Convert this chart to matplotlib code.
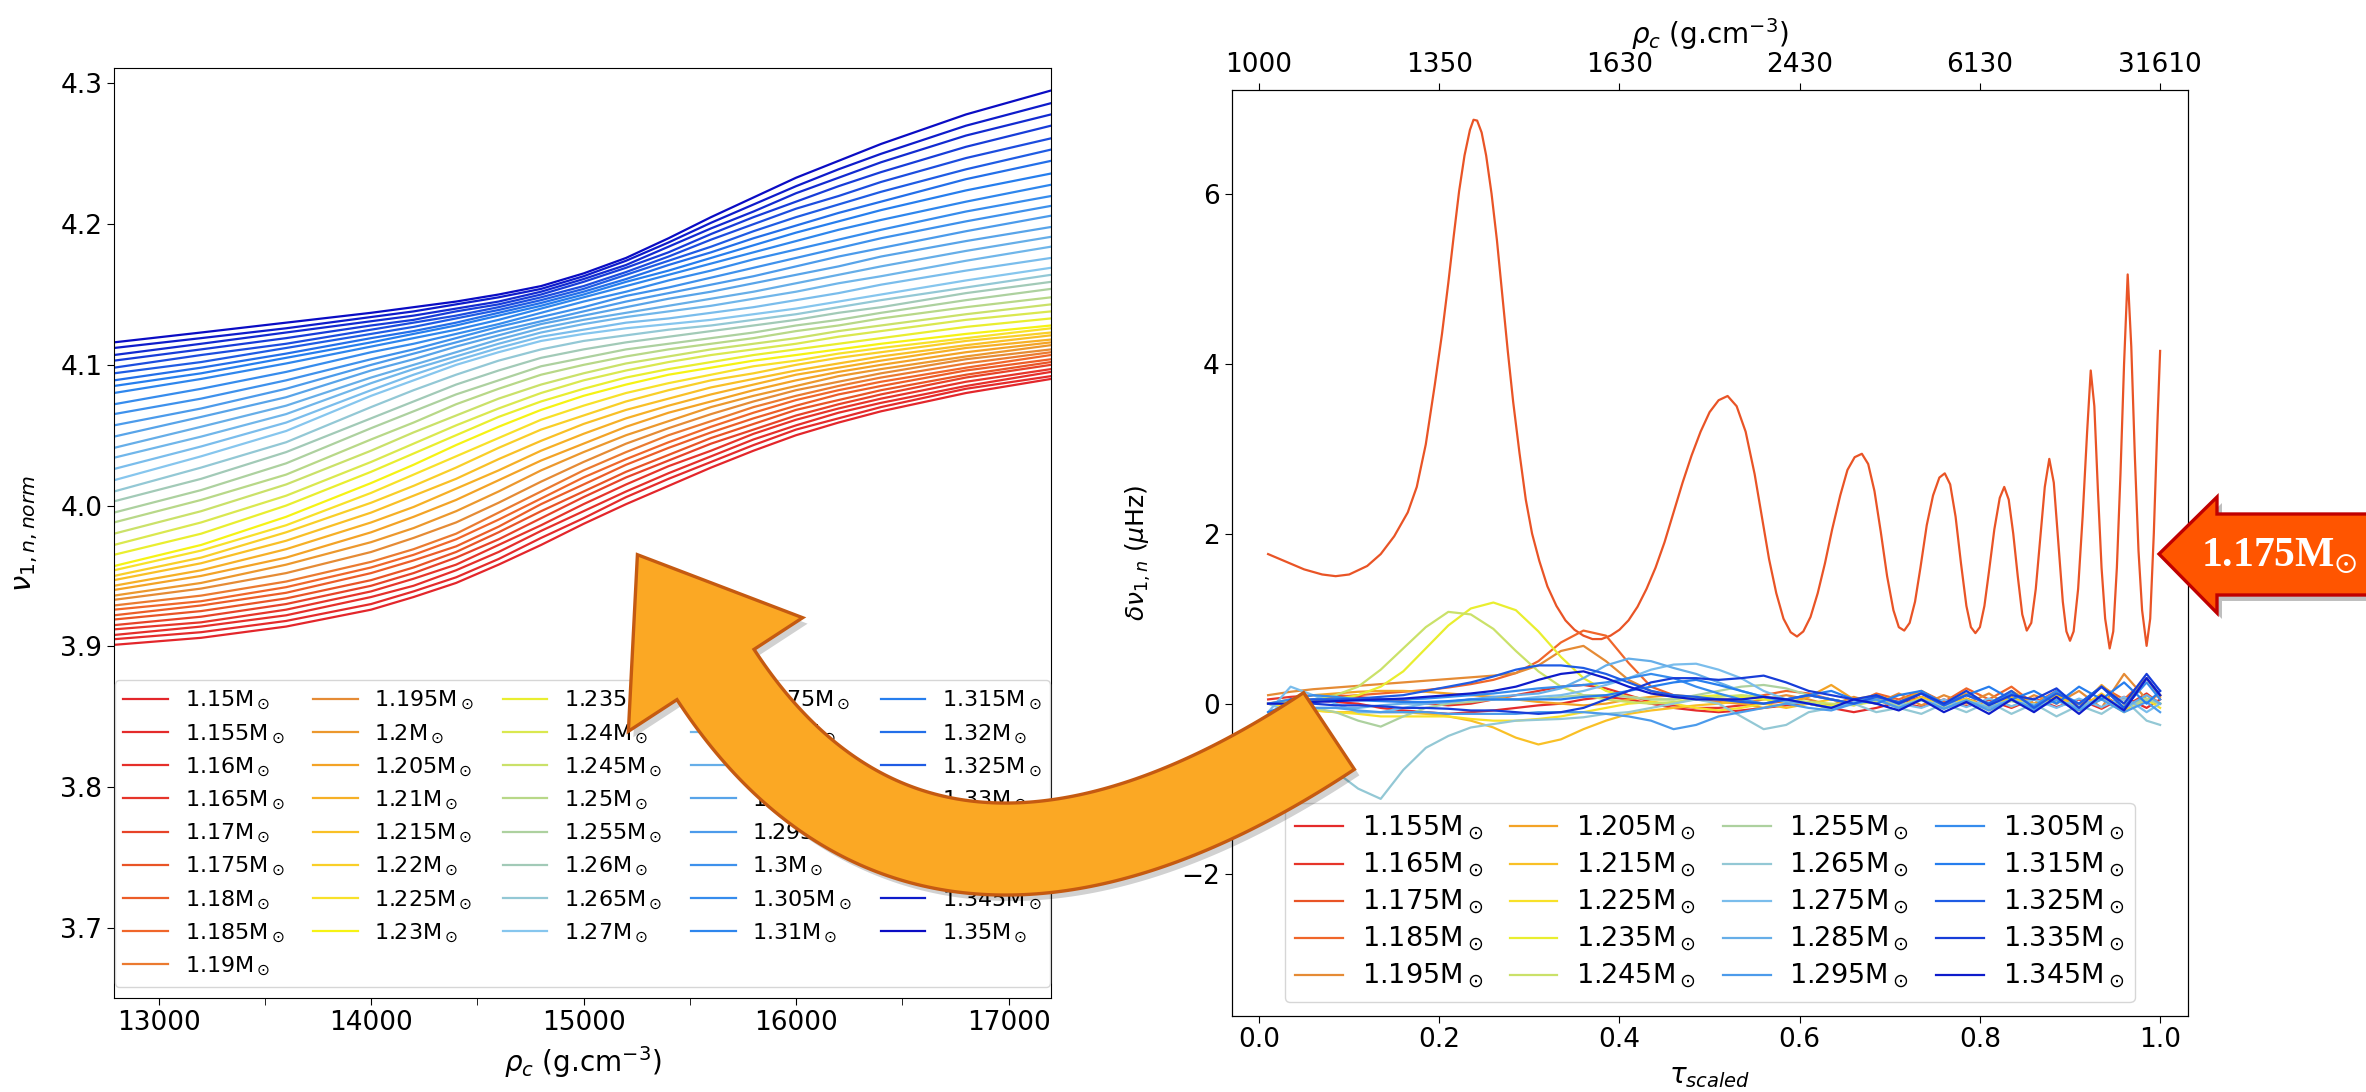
import numpy as np
import matplotlib
matplotlib.use("Agg")
import matplotlib.pyplot as plt
from matplotlib.colors import LinearSegmentedColormap
from matplotlib.patches import Polygon
from matplotlib.ticker import MultipleLocator

W, H = 2366, 1092

# ---------------------------------------------------------------- left panel data
masses = [1.15, 1.155, 1.16, 1.165, 1.17, 1.175, 1.18, 1.185, 1.19, 1.195,
          1.2, 1.205, 1.21, 1.215, 1.22, 1.225, 1.23, 1.235, 1.24, 1.245,
          1.25, 1.255, 1.26, 1.265, 1.27, 1.275, 1.28, 1.285, 1.29, 1.295,
          1.3, 1.305, 1.31, 1.315, 1.32, 1.325, 1.33, 1.335, 1.34, 1.345, 1.35]

# central density nodes (g/cm3) where nu_norm is tabulated
rho_nodes = [12790, 13200, 13600, 14000, 14200, 14400, 14600, 14800, 15000,
             15200, 15400, 15600, 15800, 16000, 16200, 16400, 16800, 17200]

# nu_{1,n,norm} for every mass (same order as masses), one list per density node
nu_12790 = [3.901, 3.905, 3.908, 3.912, 3.915, 3.919, 3.922, 3.926, 3.929, 3.933, 3.936, 3.940, 3.943, 3.947,
            3.950, 3.954, 3.957, 3.965, 3.972, 3.980, 3.988, 3.995, 4.003, 4.010, 4.018, 4.026, 4.034, 4.041,
            4.049, 4.057, 4.065, 4.072, 4.080, 4.085, 4.089, 4.094, 4.098, 4.103, 4.107, 4.112, 4.116]
nu_13200 = [3.906, 3.910, 3.914, 3.917, 3.921, 3.925, 3.929, 3.932, 3.936, 3.941, 3.945, 3.950, 3.954, 3.959,
            3.963, 3.968, 3.972, 3.980, 3.988, 3.996, 4.004, 4.011, 4.019, 4.027, 4.035, 4.042, 4.049, 4.056,
            4.063, 4.069, 4.076, 4.083, 4.090, 4.094, 4.098, 4.102, 4.107, 4.111, 4.115, 4.119, 4.123]
nu_13600 = [3.914, 3.918, 3.922, 3.926, 3.930, 3.934, 3.938, 3.942, 3.946, 3.952, 3.958, 3.963, 3.969, 3.975,
            3.981, 3.986, 3.992, 4.000, 4.007, 4.015, 4.022, 4.030, 4.038, 4.045, 4.053, 4.059, 4.065, 4.071,
            4.077, 4.083, 4.089, 4.095, 4.101, 4.105, 4.108, 4.112, 4.115, 4.119, 4.123, 4.126, 4.130]
nu_14000 = [3.926, 3.930, 3.935, 3.939, 3.943, 3.947, 3.952, 3.956, 3.960, 3.967, 3.974, 3.981, 3.988, 3.995,
            4.002, 4.009, 4.016, 4.024, 4.031, 4.039, 4.047, 4.055, 4.062, 4.070, 4.078, 4.082, 4.087, 4.091,
            4.096, 4.100, 4.104, 4.109, 4.113, 4.116, 4.119, 4.122, 4.125, 4.128, 4.131, 4.134, 4.137]
nu_14200 = [3.935, 3.939, 3.943, 3.948, 3.952, 3.956, 3.961, 3.965, 3.969, 3.977, 3.984, 3.992, 3.999, 4.007,
            4.014, 4.022, 4.029, 4.037, 4.044, 4.052, 4.059, 4.067, 4.074, 4.082, 4.089, 4.093, 4.097, 4.100,
            4.104, 4.108, 4.111, 4.115, 4.119, 4.122, 4.124, 4.127, 4.130, 4.132, 4.135, 4.138, 4.141]
nu_14400 = [3.945, 3.949, 3.954, 3.958, 3.963, 3.967, 3.971, 3.976, 3.980, 3.988, 3.996, 4.004, 4.012, 4.019,
            4.027, 4.035, 4.043, 4.050, 4.057, 4.064, 4.072, 4.079, 4.086, 4.093, 4.100, 4.103, 4.106, 4.109,
            4.113, 4.116, 4.119, 4.122, 4.125, 4.128, 4.130, 4.133, 4.135, 4.138, 4.140, 4.143, 4.145]
nu_14600 = [3.958, 3.962, 3.967, 3.972, 3.976, 3.981, 3.985, 3.990, 3.995, 4.002, 4.010, 4.018, 4.025, 4.033,
            4.041, 4.048, 4.056, 4.063, 4.069, 4.076, 4.083, 4.089, 4.096, 4.103, 4.109, 4.112, 4.115, 4.118,
            4.121, 4.124, 4.127, 4.129, 4.132, 4.135, 4.137, 4.139, 4.141, 4.143, 4.145, 4.148, 4.150]
nu_14800 = [3.972, 3.977, 3.982, 3.986, 3.991, 3.996, 4.001, 4.005, 4.010, 4.017, 4.025, 4.032, 4.039, 4.046,
            4.054, 4.061, 4.068, 4.074, 4.080, 4.086, 4.093, 4.099, 4.105, 4.111, 4.117, 4.120, 4.123, 4.126,
            4.129, 4.131, 4.134, 4.137, 4.140, 4.142, 4.144, 4.146, 4.148, 4.150, 4.152, 4.154, 4.156]
nu_15000 = [3.987, 3.991, 3.996, 4.001, 4.006, 4.010, 4.015, 4.020, 4.025, 4.031, 4.038, 4.044, 4.051, 4.058,
            4.064, 4.071, 4.078, 4.083, 4.089, 4.094, 4.100, 4.105, 4.111, 4.117, 4.122, 4.125, 4.129, 4.132,
            4.135, 4.138, 4.141, 4.145, 4.148, 4.150, 4.152, 4.154, 4.156, 4.159, 4.161, 4.163, 4.165]
nu_15200 = [4.001, 4.006, 4.010, 4.015, 4.020, 4.024, 4.029, 4.033, 4.038, 4.044, 4.050, 4.056, 4.062, 4.068,
            4.074, 4.080, 4.086, 4.091, 4.096, 4.101, 4.106, 4.111, 4.116, 4.121, 4.126, 4.130, 4.134, 4.137,
            4.141, 4.145, 4.149, 4.152, 4.156, 4.159, 4.161, 4.164, 4.166, 4.169, 4.171, 4.174, 4.176]
nu_15400 = [4.014, 4.019, 4.023, 4.028, 4.032, 4.036, 4.041, 4.045, 4.050, 4.055, 4.060, 4.066, 4.071, 4.076,
            4.082, 4.087, 4.093, 4.097, 4.102, 4.106, 4.111, 4.115, 4.120, 4.125, 4.129, 4.133, 4.138, 4.142,
            4.147, 4.151, 4.155, 4.160, 4.164, 4.167, 4.171, 4.174, 4.177, 4.180, 4.184, 4.187, 4.190]
nu_15600 = [4.027, 4.031, 4.035, 4.039, 4.044, 4.048, 4.052, 4.056, 4.060, 4.065, 4.070, 4.074, 4.079, 4.084,
            4.089, 4.093, 4.098, 4.102, 4.107, 4.111, 4.115, 4.119, 4.124, 4.128, 4.132, 4.137, 4.142, 4.147,
            4.152, 4.157, 4.162, 4.167, 4.172, 4.176, 4.180, 4.184, 4.189, 4.193, 4.197, 4.201, 4.205]
nu_15800 = [4.039, 4.043, 4.047, 4.051, 4.054, 4.058, 4.062, 4.066, 4.070, 4.074, 4.078, 4.082, 4.086, 4.090,
            4.094, 4.099, 4.103, 4.107, 4.111, 4.115, 4.119, 4.123, 4.128, 4.132, 4.136, 4.141, 4.147, 4.152,
            4.158, 4.163, 4.169, 4.175, 4.180, 4.185, 4.190, 4.195, 4.200, 4.205, 4.209, 4.214, 4.219]
nu_16000 = [4.050, 4.054, 4.057, 4.061, 4.064, 4.068, 4.071, 4.075, 4.078, 4.082, 4.085, 4.089, 4.093, 4.096,
            4.100, 4.103, 4.107, 4.111, 4.115, 4.119, 4.124, 4.128, 4.132, 4.136, 4.140, 4.146, 4.152, 4.158,
            4.164, 4.170, 4.176, 4.182, 4.188, 4.194, 4.199, 4.205, 4.211, 4.216, 4.222, 4.227, 4.233]
nu_16200 = [4.059, 4.062, 4.066, 4.069, 4.072, 4.075, 4.079, 4.082, 4.085, 4.088, 4.092, 4.095, 4.098, 4.101,
            4.105, 4.108, 4.111, 4.115, 4.120, 4.124, 4.128, 4.132, 4.137, 4.141, 4.145, 4.151, 4.158, 4.164,
            4.170, 4.177, 4.183, 4.189, 4.196, 4.202, 4.208, 4.214, 4.220, 4.227, 4.233, 4.239, 4.245]
nu_16400 = [4.067, 4.070, 4.073, 4.076, 4.079, 4.082, 4.085, 4.088, 4.091, 4.094, 4.097, 4.100, 4.103, 4.106,
            4.109, 4.112, 4.115, 4.119, 4.124, 4.128, 4.133, 4.137, 4.141, 4.146, 4.150, 4.157, 4.163, 4.170,
            4.177, 4.183, 4.190, 4.196, 4.203, 4.210, 4.216, 4.223, 4.230, 4.237, 4.244, 4.250, 4.257]
nu_16800 = [4.080, 4.083, 4.085, 4.088, 4.091, 4.093, 4.096, 4.098, 4.101, 4.104, 4.106, 4.109, 4.112, 4.114,
            4.117, 4.119, 4.122, 4.127, 4.132, 4.136, 4.141, 4.146, 4.151, 4.155, 4.160, 4.167, 4.174, 4.181,
            4.188, 4.195, 4.202, 4.209, 4.216, 4.224, 4.232, 4.239, 4.247, 4.255, 4.263, 4.270, 4.278]
nu_17200 = [4.090, 4.092, 4.095, 4.097, 4.100, 4.102, 4.104, 4.107, 4.109, 4.111, 4.114, 4.116, 4.118, 4.121,
            4.123, 4.126, 4.128, 4.133, 4.138, 4.143, 4.148, 4.154, 4.159, 4.164, 4.169, 4.176, 4.184, 4.191,
            4.198, 4.206, 4.213, 4.220, 4.228, 4.236, 4.245, 4.253, 4.261, 4.270, 4.278, 4.286, 4.295]

# ---------------------------------------------------------------- right panel data
tau_grid = [0.01, 0.035, 0.06, 0.085, 0.11, 0.135, 0.16, 0.185, 0.21, 0.235,
            0.26, 0.285, 0.31, 0.335, 0.36, 0.385, 0.41, 0.435, 0.46, 0.485,
            0.51, 0.535, 0.56, 0.585, 0.61, 0.635, 0.66, 0.685, 0.71, 0.735,
            0.76, 0.785, 0.81, 0.835, 0.86, 0.885, 0.91, 0.935, 0.96, 0.985, 1.0]

dnu_1155 = [0.0, 0.02, 0.04, 0.02, 0.0, -0.05, -0.08, -0.1, -0.12, -0.1,
            -0.08, -0.05, -0.02, 0.0, 0.05, 0.08, 0.05, 0.0, -0.05, -0.08,
            -0.1, -0.08, -0.05, -0.02, 0.0, -0.05, -0.1, -0.05, 0.02, -0.04,
            0.05, -0.03, 0.04, -0.05, 0.06, -0.04, 0.05, -0.06, 0.08, -0.05, 0.05]
dnu_1165 = [0.05, 0.08, 0.1, 0.1, 0.08, 0.05, 0.03, 0.0, -0.02, 0.0,
            0.05, 0.1, 0.15, 0.2, 0.22, 0.18, 0.1, 0.02, -0.02, -0.05,
            -0.05, -0.02, 0.0, 0.03, 0.0, -0.04, 0.02, 0.06, 0.0, 0.08,
            -0.02, 0.06, -0.04, 0.07, -0.03, 0.08, -0.05, 0.1, -0.04, 0.12, 0.0]
dnu_1185 = [0.0, 0.02, 0.05, 0.08, 0.1, 0.12, 0.14, 0.16, 0.19, 0.23,
            0.28, 0.36, 0.5, 0.72, 0.86, 0.8, 0.48, 0.2, 0.1, 0.06,
            0.05, 0.05, 0.1, 0.15, 0.12, 0.05, 0.0, 0.12, 0.05, 0.15,
            0.02, 0.18, 0.05, 0.2, 0.0, 0.15, -0.02, 0.2, 0.05, 0.3, 0.1]
dnu_1195 = [0.1, 0.14, 0.17, 0.19, 0.21, 0.23, 0.25, 0.27, 0.29, 0.31,
            0.33, 0.36, 0.45, 0.62, 0.68, 0.5, 0.28, 0.15, 0.08, 0.05,
            0.02, 0.0, 0.05, 0.1, 0.05, -0.02, 0.08, 0.0, 0.12, -0.02,
            0.1, 0.0, 0.12, -0.04, 0.1, 0.0, 0.15, -0.05, 0.35, 0.05, 0.1]
dnu_1205 = [0.0, 0.05, 0.1, 0.12, 0.14, 0.15, 0.15, 0.14, 0.12, 0.1,
            0.08, 0.05, 0.02, 0.0, -0.02, 0.0, 0.05, 0.08, 0.1, 0.08,
            0.05, 0.0, -0.05, 0.0, 0.08, 0.22, 0.05, 0.1, 0.02, 0.15,
            0.0, 0.12, -0.02, 0.15, 0.0, 0.12, -0.05, 0.22, 0.0, 0.3, 0.08]
dnu_1215 = [0.0, -0.05, -0.08, -0.1, -0.1, -0.1, -0.1, -0.12, -0.15, -0.2,
            -0.28, -0.4, -0.48, -0.42, -0.3, -0.2, -0.12, -0.08, -0.05, -0.02,
            0.0, 0.03, 0.0, -0.05, 0.0, 0.05, -0.02, 0.06, -0.04, 0.08,
            -0.03, 0.06, -0.05, 0.08, -0.04, 0.1, -0.06, 0.12, -0.08, 0.1, 0.0]
dnu_1225 = [0.0, -0.05, -0.08, -0.1, -0.12, -0.15, -0.15, -0.15, -0.15, -0.18,
            -0.2, -0.2, -0.18, -0.15, -0.1, -0.05, 0.0, 0.02, 0.0, -0.05,
            -0.08, -0.05, 0.0, 0.05, 0.0, -0.06, 0.0, 0.05, -0.05, 0.06,
            -0.06, 0.05, -0.08, 0.04, -0.06, 0.05, -0.08, 0.06, -0.1, 0.05, -0.05]
dnu_1235 = [0.0, 0.0, 0.02, 0.05, 0.1, 0.2, 0.38, 0.65, 0.92, 1.12,
            1.19, 1.1, 0.85, 0.55, 0.3, 0.15, 0.08, 0.05, 0.05, 0.08,
            0.1, 0.08, 0.05, 0.02, 0.0, -0.03, 0.0, 0.04, -0.02, 0.05,
            -0.03, 0.04, -0.04, 0.05, -0.03, 0.04, -0.05, 0.06, -0.04, 0.05, 0.0]
dnu_1245 = [0.0, 0.02, 0.05, 0.1, 0.2, 0.4, 0.65, 0.9, 1.08, 1.05,
            0.88, 0.62, 0.38, 0.2, 0.1, 0.05, 0.02, 0.0, 0.02, 0.05,
            0.08, 0.1, 0.08, 0.05, 0.02, 0.0, -0.02, 0.03, -0.02, 0.04,
            -0.03, 0.03, -0.04, 0.05, -0.02, 0.04, -0.05, 0.05, -0.03, 0.06, 0.0]
dnu_1255 = [0.0, 0.0, -0.05, -0.1, -0.2, -0.27, -0.15, -0.05, 0.0, 0.02,
            0.05, 0.05, 0.05, 0.08, 0.1, 0.1, 0.08, 0.05, 0.05, 0.1,
            0.15, 0.2, 0.22, 0.18, 0.1, 0.05, 0.0, 0.04, -0.02, 0.05,
            -0.03, 0.04, -0.04, 0.03, -0.03, 0.05, -0.04, 0.06, -0.05, 0.05, 0.0]
dnu_1265 = [0.0, -0.1, -0.4, -0.8, -1.0, -1.12, -0.78, -0.52, -0.38, -0.28,
            -0.24, -0.2, -0.19, -0.18, -0.16, -0.12, -0.1, -0.05, 0.0, 0.05,
            0.0, -0.15, -0.3, -0.25, -0.1, -0.05, 0.0, -0.1, -0.05, -0.12,
            0.0, -0.1, 0.02, -0.12, 0.0, -0.15, -0.02, -0.12, 0.05, -0.2, -0.25]
dnu_1275 = [-0.1, 0.2, 0.1, 0.0, -0.1, -0.1, -0.05, 0.0, 0.02, 0.05,
            0.05, 0.05, 0.08, 0.1, 0.15, 0.22, 0.3, 0.4, 0.46, 0.47,
            0.4, 0.3, 0.15, 0.05, 0.0, -0.05, 0.02, 0.08, 0.0, -0.05,
            0.05, -0.04, 0.06, -0.03, 0.05, -0.05, 0.06, -0.04, 0.08, -0.1, 0.0]
dnu_1285 = [-0.15, -0.1, -0.05, -0.05, -0.05, -0.02, 0.0, 0.0, 0.02, 0.05,
            0.08, 0.1, 0.12, 0.18, 0.3, 0.45, 0.53, 0.5, 0.42, 0.35,
            0.25, 0.15, 0.08, 0.02, 0.0, -0.05, 0.0, 0.05, -0.05, 0.04,
            -0.06, 0.03, -0.05, 0.05, -0.08, 0.05, -0.06, 0.08, -0.05, 0.1, 0.0]
dnu_1295 = [-0.2, -0.1, -0.05, -0.05, -0.08, -0.1, -0.1, -0.1, -0.12, -0.12,
            -0.12, -0.12, -0.1, -0.1, -0.1, -0.12, -0.15, -0.2, -0.3, -0.25,
            -0.15, -0.1, -0.05, 0.0, -0.05, -0.08, 0.0, 0.05, -0.05, 0.05,
            -0.06, 0.04, -0.08, 0.05, -0.06, 0.04, -0.08, 0.05, -0.1, 0.02, -0.1]
dnu_1305 = [0.0, 0.05, 0.1, 0.08, 0.05, 0.05, 0.05, 0.06, 0.08, 0.1,
            0.12, 0.15, 0.18, 0.2, 0.22, 0.25, 0.3, 0.35, 0.3, 0.2,
            0.12, 0.05, 0.0, 0.05, 0.1, 0.05, 0.0, 0.1, 0.0, 0.12,
            -0.02, 0.1, 0.0, 0.12, -0.03, 0.15, 0.0, 0.2, -0.05, 0.25, 0.05]
dnu_1315 = [-0.1, 0.0, 0.05, 0.05, 0.04, 0.03, 0.02, 0.02, 0.03, 0.05,
            0.05, 0.05, 0.05, 0.05, 0.08, 0.1, 0.15, 0.2, 0.25, 0.28,
            0.22, 0.15, 0.08, 0.05, 0.1, 0.15, 0.05, 0.0, 0.1, 0.15,
            0.0, 0.1, 0.2, 0.05, 0.15, 0.0, 0.2, 0.05, 0.25, 0.0, 0.15]
dnu_1325 = [-0.2, 0.05, 0.05, 0.05, 0.06, 0.08, 0.1, 0.15, 0.2, 0.25,
            0.32, 0.4, 0.45, 0.45, 0.42, 0.35, 0.25, 0.15, 0.1, 0.08,
            0.05, 0.02, 0.0, 0.05, 0.1, 0.05, 0.0, 0.08, 0.02, 0.12,
            -0.02, 0.1, 0.0, 0.15, -0.05, 0.12, 0.0, 0.2, -0.05, 0.3, 0.1]
dnu_1335 = [-0.3, 0.0, 0.0, -0.02, -0.02, -0.03, -0.05, -0.05, -0.06, -0.08,
            -0.08, -0.1, -0.12, -0.1, -0.05, 0.05, 0.15, 0.25, 0.3, 0.3,
            0.28, 0.3, 0.33, 0.25, 0.15, 0.1, 0.05, 0.1, 0.0, 0.12,
            0.0, 0.15, -0.02, 0.1, 0.05, 0.18, -0.05, 0.2, 0.0, 0.35, 0.15]
dnu_1345 = [0.0, 0.0, 0.02, 0.03, 0.04, 0.05, 0.06, 0.08, 0.1, 0.12,
            0.15, 0.2, 0.28, 0.35, 0.38, 0.3, 0.2, 0.12, 0.08, 0.05,
            0.05, 0.05, 0.08, 0.05, 0.0, -0.05, 0.05, 0.0, -0.08, 0.05,
            -0.1, 0.02, -0.12, 0.05, -0.1, 0.08, -0.12, 0.1, -0.08, 0.3, 0.1]

# the 1.175 Msun model has its own, finer sampling
tau_1175 = [0.01, 0.03, 0.05, 0.07, 0.085, 0.1, 0.12, 0.135, 0.15, 0.165,
            0.175, 0.185, 0.195, 0.203, 0.21, 0.216, 0.222, 0.228, 0.234, 0.238,
            0.242, 0.247, 0.252, 0.258, 0.264, 0.27, 0.276, 0.282, 0.289, 0.296,
            0.303, 0.311, 0.32, 0.33, 0.34, 0.35, 0.36, 0.37, 0.38, 0.39,
            0.4, 0.41, 0.42, 0.43, 0.44, 0.45, 0.46, 0.47, 0.48, 0.49,
            0.5, 0.51, 0.52, 0.53, 0.54, 0.55, 0.558, 0.566, 0.574, 0.582,
            0.59, 0.597, 0.604, 0.612, 0.62, 0.628, 0.636, 0.645, 0.653, 0.661,
            0.669, 0.676, 0.683, 0.69, 0.697, 0.704, 0.71, 0.716, 0.722, 0.728,
            0.734, 0.741, 0.748, 0.755, 0.761, 0.767, 0.773, 0.779, 0.785, 0.79,
            0.795, 0.8, 0.805, 0.81, 0.816, 0.822, 0.827, 0.832, 0.837, 0.842,
            0.847, 0.852, 0.857, 0.862, 0.867, 0.872, 0.877, 0.882, 0.887, 0.892,
            0.896, 0.9, 0.904, 0.909, 0.914, 0.919, 0.923, 0.927, 0.931, 0.935,
            0.939, 0.944, 0.948, 0.952, 0.956, 0.96, 0.964, 0.968, 0.972, 0.976,
            0.98, 0.985, 0.989, 0.993, 0.997, 1.0]
dnu_1175 = [1.76, 1.67, 1.58, 1.52, 1.50, 1.52, 1.62, 1.76, 1.97, 2.25,
            2.55, 3.05, 3.75, 4.35, 4.95, 5.5, 6.03, 6.45, 6.75, 6.87,
            6.86, 6.72, 6.45, 6.0, 5.45, 4.8, 4.15, 3.55, 2.95, 2.4,
            2.0, 1.68, 1.38, 1.15, 0.98, 0.87, 0.8, 0.76, 0.76, 0.8,
            0.87, 0.98, 1.14, 1.35, 1.6, 1.9, 2.25, 2.6, 2.92, 3.2,
            3.43, 3.57, 3.62, 3.5, 3.2, 2.7, 2.2, 1.7, 1.3, 1.0,
            0.84, 0.79, 0.85, 1.02, 1.3, 1.65, 2.05, 2.45, 2.75, 2.9,
            2.94, 2.82, 2.5, 2.02, 1.5, 1.1, 0.9, 0.86, 0.95, 1.2,
            1.6, 2.1, 2.45, 2.66, 2.71, 2.58, 2.2, 1.65, 1.15, 0.9,
            0.83, 0.9, 1.15, 1.55, 2.05, 2.42, 2.55, 2.4, 2.0, 1.5,
            1.05, 0.86, 0.95, 1.35, 1.95, 2.55, 2.88, 2.6, 1.9, 1.2,
            0.85, 0.74, 0.85, 1.35, 2.2, 3.2, 3.92, 3.5, 2.5, 1.6,
            1.0, 0.65, 0.85, 1.6, 2.7, 4.0, 5.05, 4.2, 2.9, 1.8,
            1.1, 0.68, 1.0, 2.0, 3.3, 4.15]

dnu_masses = [1.155, 1.165, 1.175, 1.185, 1.195, 1.205, 1.215, 1.225, 1.235, 1.245,
              1.255, 1.265, 1.275, 1.285, 1.295, 1.305, 1.315, 1.325, 1.335, 1.345]

tau_ticks = [0.0, 0.2, 0.4, 0.6, 0.8, 1.0]
rho_top_labels = ['1000', '1350', '1630', '2430', '6130', '31610']

# mass -> colour scale
cmap_masses = [1.15, 1.165, 1.175, 1.185, 1.195, 1.205, 1.215, 1.225, 1.23,
               1.24, 1.25, 1.26, 1.27, 1.285, 1.30, 1.315, 1.33, 1.35]
cmap_colors = ['#e3262b', '#e6352a', '#e95426', '#f0672a', '#e58c35', '#f3a326',
               '#f9c026', '#f8e02a', '#f6f314', '#dbe84e', '#b9d986', '#a2cab8',
               '#86c6ee', '#66aee8', '#3f92ec', '#2680ee', '#1c4ee0', '#0a0cc4']
M_LO, M_HI = 1.15, 1.35


def mass_pos(m):
    return min(max(round((m - M_LO) / (M_HI - M_LO), 6), 0.0), 1.0)


cmap = LinearSegmentedColormap.from_list(
    'mass', [(mass_pos(m), c) for m, c in zip(cmap_masses, cmap_colors)])


def mass_color(m):
    return cmap(mass_pos(m))


def mass_label(m):
    return f'{m:g}' + r'M$_\odot$'


fig = plt.figure(figsize=(W / 100, H / 100), dpi=100)

# ---------------------------------------------------------------- left panel
axL = fig.add_axes([114 / W, 1 - 998 / H, (1051 - 114) / W, (998 - 68) / H])
nu_table = np.array([nu_12790, nu_13200, nu_13600, nu_14000, nu_14200, nu_14400,
                     nu_14600, nu_14800, nu_15000, nu_15200, nu_15400, nu_15600,
                     nu_15800, nu_16000, nu_16200, nu_16400, nu_16800, nu_17200])
for j, m in enumerate(masses):
    axL.plot(rho_nodes, nu_table[:, j], color=mass_color(m), lw=1.6, label=mass_label(m))
axL.set_xlim(12790, 17200)
axL.set_ylim(3.65, 4.311)
axL.xaxis.set_major_locator(MultipleLocator(1000))
axL.xaxis.set_minor_locator(MultipleLocator(500))
axL.yaxis.set_major_locator(MultipleLocator(0.1))
axL.tick_params(which='both', labelsize=19, length=5)
axL.set_xlabel(r'$\rho_c$ (g.cm$^{-3}$)', fontsize=20)
axL.xaxis.set_label_coords(0.5, -0.05)
axL.set_ylabel(r'$\nu_{1,n,norm}$', fontsize=21)
axL.yaxis.set_label_coords(-0.079, 0.5)
axL.legend(ncol=5, loc='lower center', fontsize=16, handlelength=2.0, handletextpad=0.75,
           labelspacing=0.45, columnspacing=1.3, borderaxespad=0.5)

# ---------------------------------------------------------------- right panel
axR = fig.add_axes([1231.6 / W, 1 - 1015.6 / H, (2187.6 - 1231.6) / W, (1015.6 - 90) / H])
small = {1.155: dnu_1155, 1.165: dnu_1165, 1.185: dnu_1185, 1.195: dnu_1195,
         1.205: dnu_1205, 1.215: dnu_1215, 1.225: dnu_1225, 1.235: dnu_1235,
         1.245: dnu_1245, 1.255: dnu_1255, 1.265: dnu_1265, 1.275: dnu_1275,
         1.285: dnu_1285, 1.295: dnu_1295, 1.305: dnu_1305, 1.315: dnu_1315,
         1.325: dnu_1325, 1.335: dnu_1335, 1.345: dnu_1345}
for m in dnu_masses:
    if m == 1.175:
        axR.plot(tau_1175, dnu_1175, color=mass_color(m), lw=1.6, label=mass_label(m))
    else:
        axR.plot(tau_grid, small[m], color=mass_color(m), lw=1.6, label=mass_label(m))
axR.set_xlim(-0.0305, 1.0305)
axR.set_ylim(-3.67, 7.22)
axR.set_yticks([-2, 0, 2, 4, 6])
axR.set_xticks(tau_ticks)
axR.tick_params(labelsize=19, length=5)
axR.set_xlabel(r'$\tau_{scaled}$', fontsize=20)
axR.xaxis.set_label_coords(0.5, -0.05)
axR.set_ylabel(r'$\delta\nu_{1,n}$ ($\mu$Hz)', fontsize=18)
axR.yaxis.set_label_coords(-0.082, 0.5)
axR.legend(ncol=4, loc='lower center', fontsize=19.5, handlelength=1.75, handletextpad=0.7,
           labelspacing=0.3, columnspacing=1.0, borderaxespad=0.5)

top = axR.twiny()
top.set_xlim(axR.get_xlim())
top.set_xticks(tau_ticks)
top.set_xticklabels(rho_top_labels)
top.tick_params(labelsize=19, length=5)
top.set_xlabel(r'$\rho_c$ (g.cm$^{-3}$)', fontsize=20)
top.xaxis.set_label_coords(0.5, 1.05)

# ---------------------------------------------------------------- overlay in pixel units
ov = fig.add_axes([0, 0, 1, 1], zorder=10)
ov.set_xlim(0, W)
ov.set_ylim(H, 0)
ov.axis('off')
ov.patch.set_visible(False)

# curved arrow: cubic Bezier spine from the right panel back to the left one
p0, p1 = np.array([1329.0, 731.0]), np.array([1096.6, 885.0])
p2, p3 = np.array([869.0, 910.0]), np.array([715.5, 674.5])
t = np.linspace(0, 1, 120)[:, None]
spine = (1 - t) ** 3 * p0 + 3 * (1 - t) ** 2 * t * p1 + 3 * (1 - t) * t ** 2 * p2 + t ** 3 * p3
deriv = 3 * (1 - t) ** 2 * (p1 - p0) + 6 * (1 - t) * t * (p2 - p1) + 3 * t ** 2 * (p3 - p2)
u = deriv / np.linalg.norm(deriv, axis=1)[:, None]
nrm = np.column_stack([-u[:, 1], u[:, 0]])
half = 46
edge_a = spine + half * nrm
edge_b = spine - half * nrm
u_end, n_end = u[-1], nrm[-1]
barb_a = p3 + 104 * n_end
barb_b = p3 - 104 * n_end
tip = p3 + 143 * u_end
arrow_pts = np.vstack([edge_a, barb_a, tip, barb_b, edge_b[::-1]])

ov.add_patch(Polygon(arrow_pts + [5, 6], closed=True, facecolor='black', edgecolor='none', alpha=0.18))
ov.add_patch(Polygon(arrow_pts, closed=True, facecolor='#fba824', edgecolor='#c55a11',
                     lw=2.4, joinstyle='miter'))

# callout arrow pointing at the 1.175 Msun curve
callout = np.array([[2159, 554], [2217, 497], [2217, 514], [2380, 514],
                    [2380, 595], [2217, 595], [2217, 613]])
ov.add_patch(Polygon(callout + [5, 6], closed=True, facecolor='black', edgecolor='none', alpha=0.25))
ov.add_patch(Polygon(callout, closed=True, facecolor='#ff5500', edgecolor='#c00000',
                     lw=2.4, joinstyle='miter'))
ov.text(2279, 556, r'1.175M$_{\odot}$', color='white', fontsize=30, fontweight='bold',
        family='Liberation Serif', math_fontfamily='stix', ha='center', va='center')

fig.savefig('out.png', dpi=100)
